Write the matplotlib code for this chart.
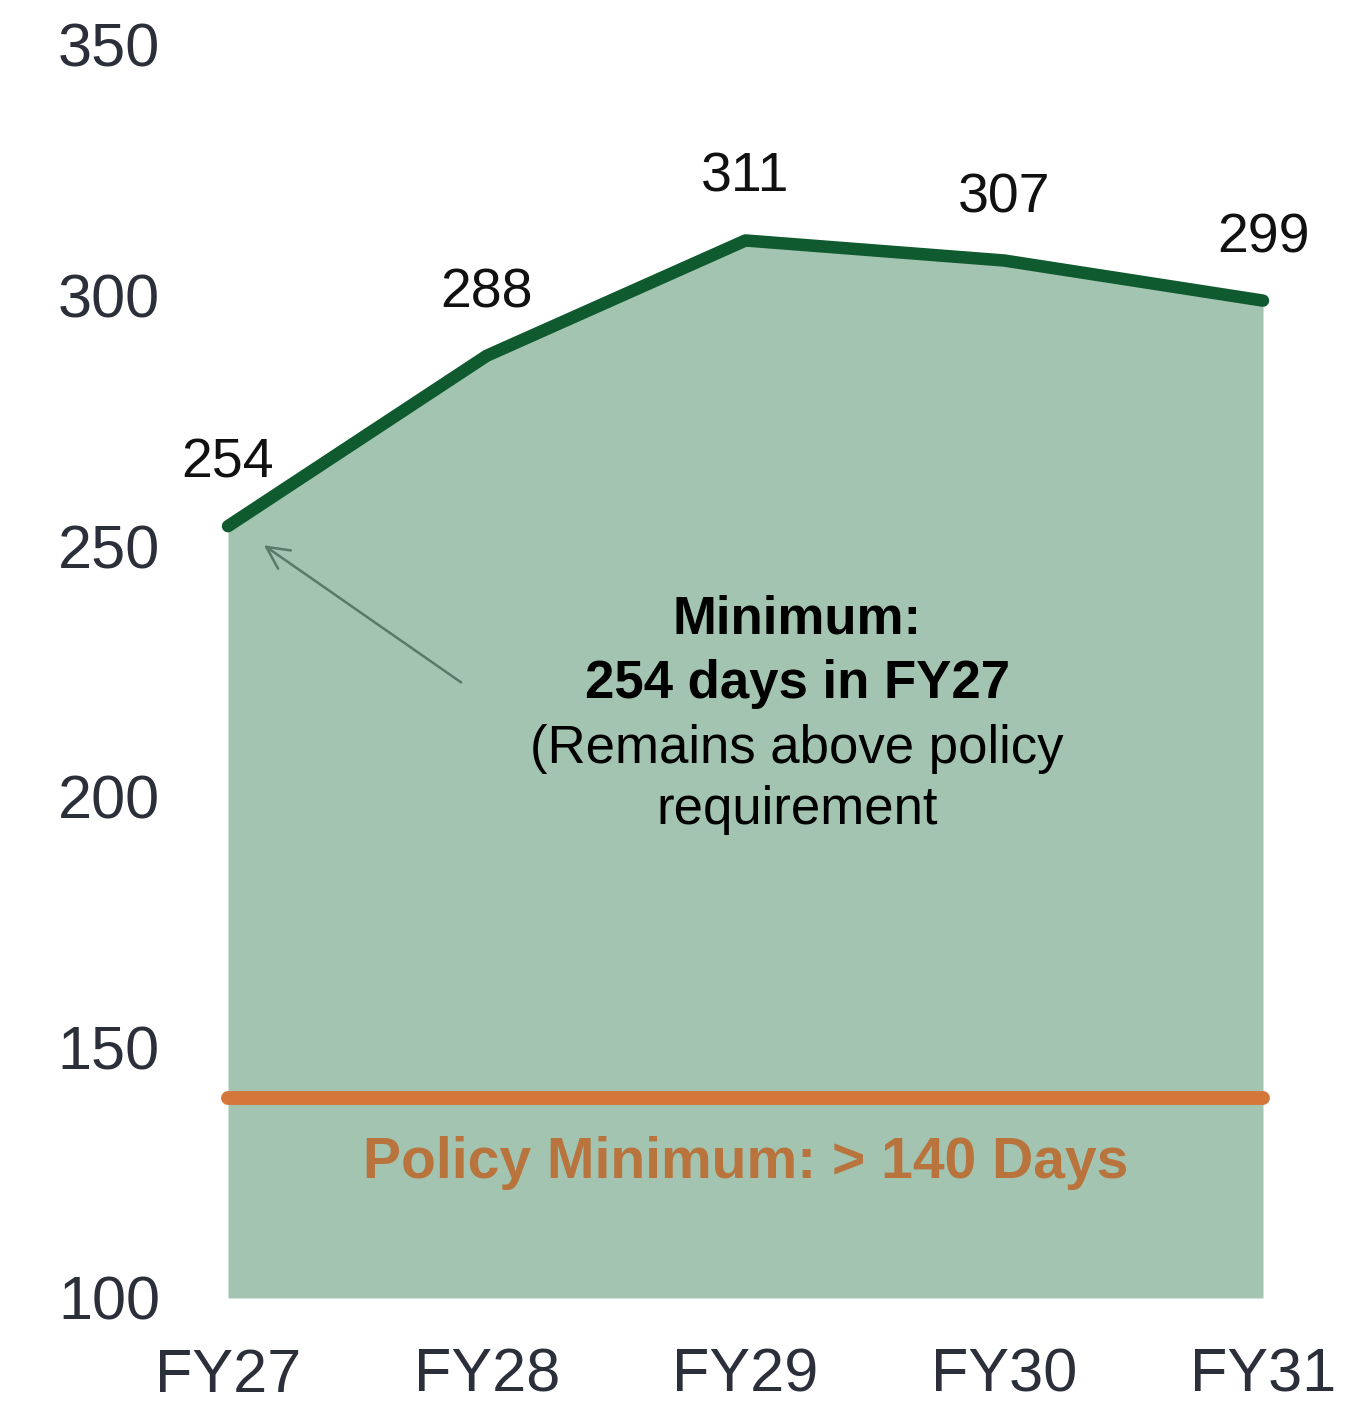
import matplotlib.pyplot as plt

# Datos
years = ['FY27', 'FY28', 'FY29', 'FY30', 'FY31']
days = [254, 288, 311, 307, 299]
policy_min = 140
yticks = [100, 150, 200, 250, 300, 350]

plt.rcParams['font.family'] = ['Liberation Sans', 'DejaVu Sans']

fig = plt.figure(figsize=(13.69, 14.12), dpi=100)
ax = fig.add_axes([228 / 1369, 1 - 1298 / 1412, (1263 - 228) / 1369, (1298 - 45) / 1412])

x = list(range(len(years)))

# Area bajo la curva
ax.fill_between(x, 100, days, color='#a2c4b1', linewidth=0, zorder=1)
ax.plot(x, days, color='#0f5a2e', linewidth=9, solid_capstyle='round',
        solid_joinstyle='round', clip_on=False, zorder=3)

# Linea de minimo de politica
ax.plot([x[0], x[-1]], [policy_min, policy_min], color='#d5763a', linewidth=10,
        solid_capstyle='round', clip_on=False, zorder=2)
ax.text(2, 127, 'Policy Minimum: > 140 Days', ha='center', va='center',
        fontsize=41, fontweight='bold', color='#b8743c', zorder=4)

# Etiquetas de valores
for xi, v in zip(x, days):
    ax.annotate(str(v), (xi, v), xytext=(0, 45), textcoords='offset points',
                ha='center', va='center', fontsize=40, color='#111111',
                annotation_clip=False, zorder=5)

# Texto central y flecha
ax.text(2.2, 235.3, 'Minimum:', ha='center', va='center', fontsize=38,
        fontweight='bold', color='black', zorder=5)
ax.text(2.2, 222.6, '254 days in FY27', ha='center', va='center', fontsize=38,
        fontweight='bold', color='black', zorder=5)
ax.text(2.2, 209.6, '(Remains above policy', ha='center', va='center',
        fontsize=38, color='black', zorder=5)
ax.text(2.2, 197.3, 'requirement', ha='center', va='center',
        fontsize=38, color='black', zorder=5)
ax.annotate('', xy=(0.13, 250.5), xytext=(0.91, 222.5),
            arrowprops=dict(arrowstyle='->', color='#5a7a68', lw=1.8,
                            mutation_scale=40), zorder=4)

ax.set_xlim(0, 4)
ax.set_ylim(100, 350)
ax.set_xticks(x)
ax.set_xticklabels(years)
ax.set_yticks(yticks)
ax.tick_params(axis='y', length=0, pad=49, labelsize=44, labelcolor='#2a2f3a')
ax.tick_params(axis='x', length=0, pad=36, labelsize=44, labelcolor='#2a2f3a')
for s in ax.spines.values():
    s.set_visible(False)

fig.savefig('out.png', dpi=100, facecolor='white')
